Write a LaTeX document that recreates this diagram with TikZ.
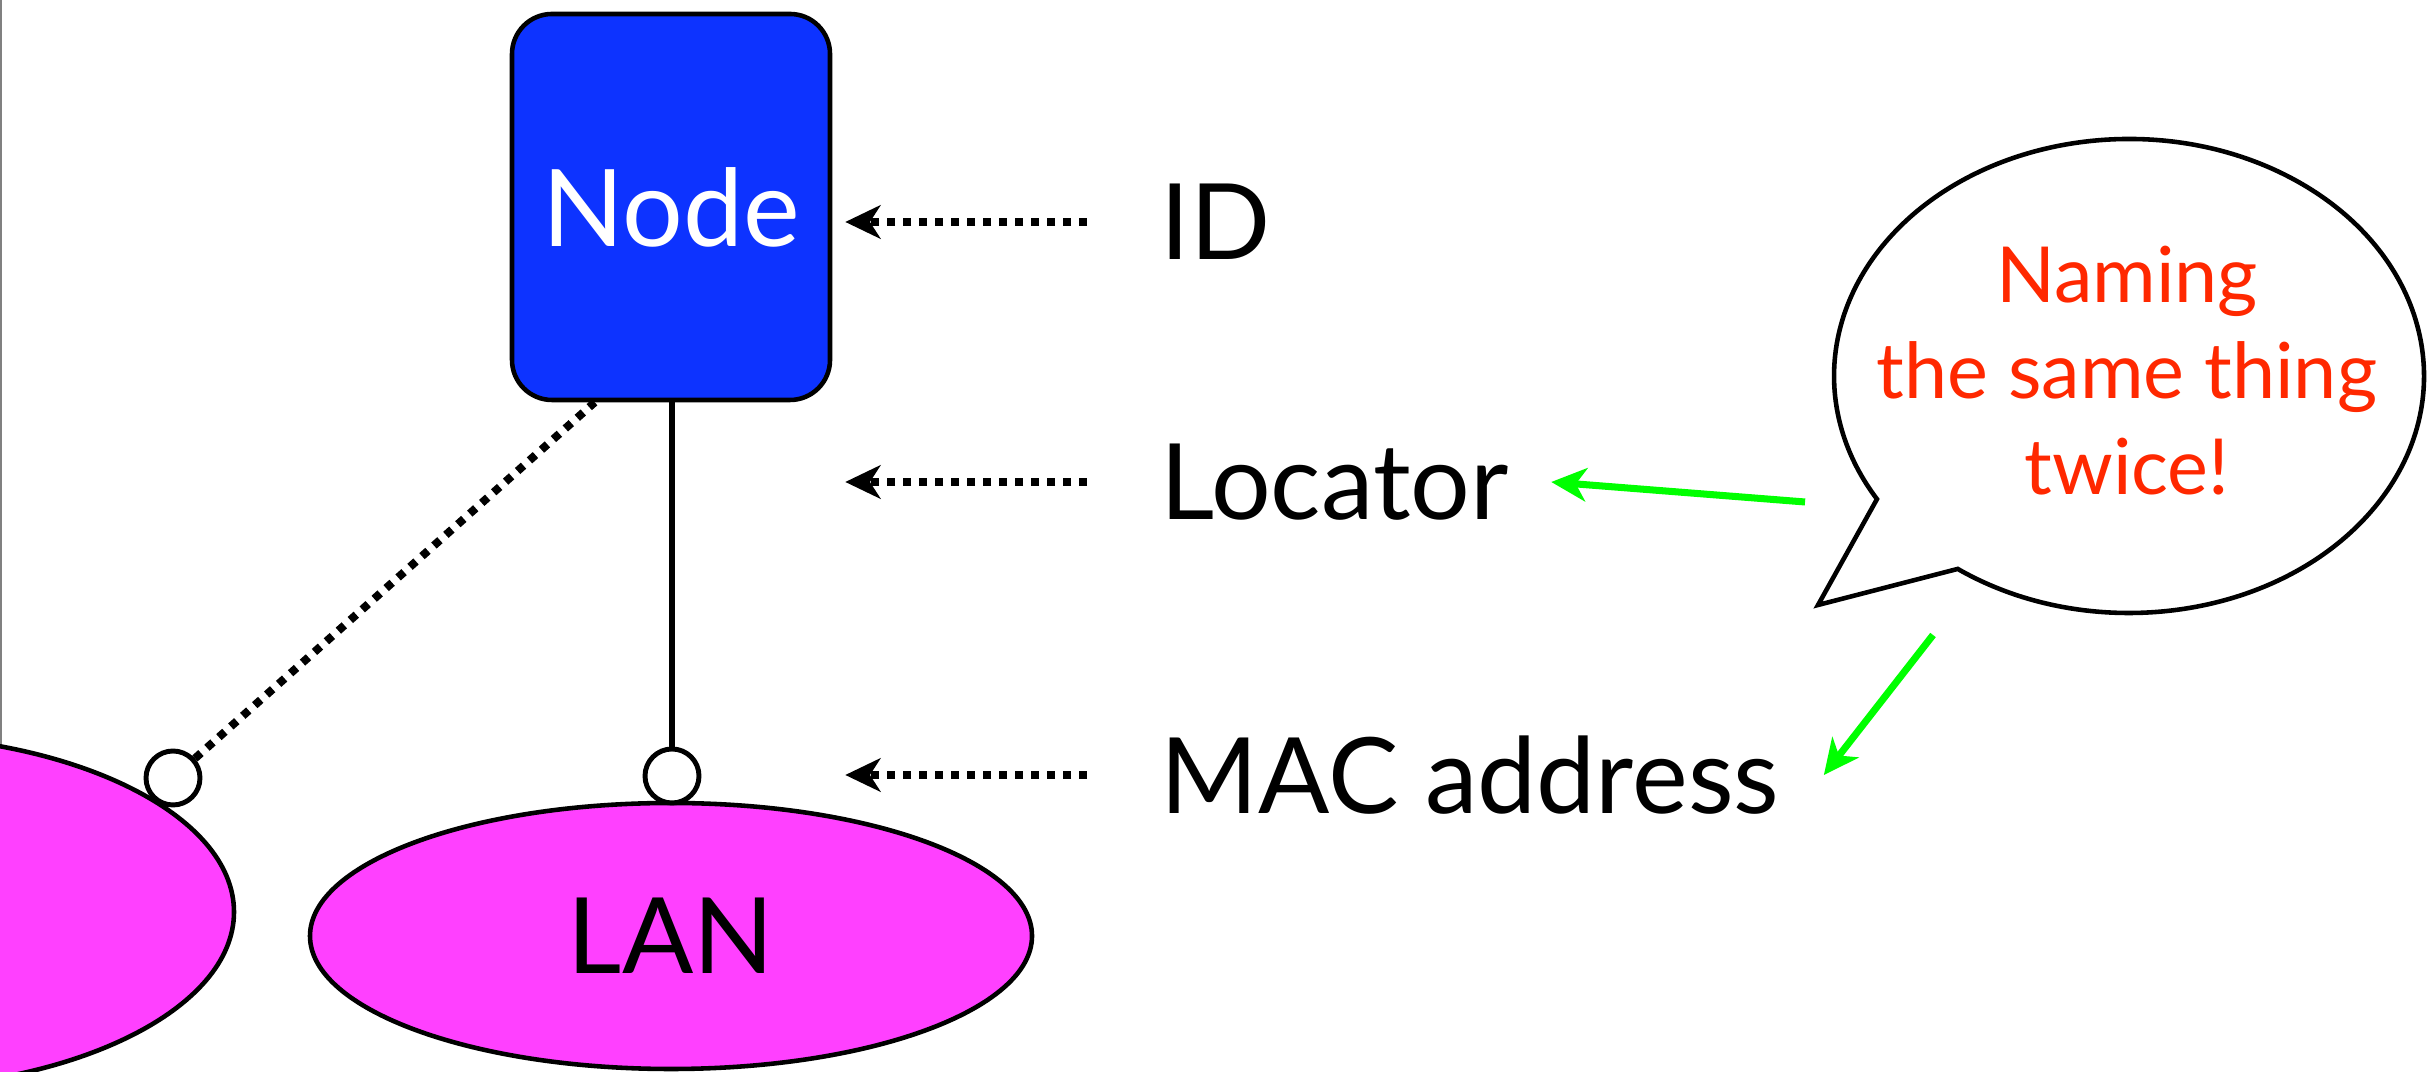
\documentclass[tikz,border=0pt]{standalone}
\usepackage{fontspec}
\setmainfont{Lato}
\usetikzlibrary{arrows.meta}
\usetikzlibrary{shapes.geometric}
\usetikzlibrary{positioning}
\definecolor{nodeblue}{RGB}{13,51,255}
\definecolor{lanpink}{RGB}{255,64,255}
\definecolor{alertred}{RGB}{255,40,0}
\definecolor{hintgreen}{RGB}{0,255,0}
\tikzset{
	hostbox/.style={draw=black, line width=1.3pt, fill=nodeblue, rounded corners=0.4cm, minimum width=3.18cm, minimum height=3.86cm, text=white, font=\fontsize{30.5}{36}\selectfont},
	lanshape/.style={ellipse, draw=black, line width=1.3pt, fill=lanpink, inner sep=0pt, font=\fontsize{30}{36}\selectfont},
	port/.style={circle, draw=black, line width=1.4pt, fill=white, minimum size=0.54cm, inner sep=0pt},
	layer/.style={anchor=west, inner sep=0pt, font=\fontsize{30}{36}\selectfont},
	ptr/.style={line width=2.3pt, dash pattern=on 0.08cm off 0.08cm, -{Stealth[length=10pt, width=9.5pt, inset=3pt]}},
	hint/.style={draw=hintgreen, line width=2pt, -{Stealth[length=10pt, width=9.5pt, inset=3pt, fill=hintgreen]}},
	bubbletext/.style={align=center, text=alertred, inner sep=0pt, font=\fontsize{22}{27.3}\selectfont}
}
\begin{document}
\begin{tikzpicture}
	\useasboundingbox (0,0) rectangle (24.29,10.72);
	\clip (0,0) rectangle (24.29,10.72);
	\draw[gray, line width=0.02cm] (0.01,0) -- (0.01,10.72);
	% networks
	\draw[line width=1.3pt, fill=lanpink] (-1.27,1.60) ellipse [x radius=3.61, y radius=1.77];
	\node[lanshape, minimum width=7.22cm, minimum height=2.66cm] (lan) at (6.71,1.36) {LAN};
	% host
	\node[hostbox] (host) at (6.71,8.65) {Node};
	\node[port] (lport) at (1.73,2.94) {};
	\node[port] (lanport) at (6.72,2.96) {};
	\draw[line width=1.8pt] (host.south -| lanport) -- (lanport);
	\draw[line width=2.3pt, dash pattern=on 0.08cm off 0.08cm] (lport) -- ([xshift=8.5mm]host.south west);
	% names
	\node[layer] (id) at (11.60,8.50) {ID};
	\node[layer] (loc) at (11.60,5.90) {Locator};
	\node[layer] (mac) at (11.60,2.97) {MAC address};
	\draw[ptr, shorten <=7.3mm, shorten >=1.3mm] (id.west) -- (id.west -| host.east);
	\draw[ptr, shorten <=7.3mm, shorten >=1.3mm] (loc.west) -- (loc.west -| host.east);
	\draw[ptr, shorten <=7.3mm, shorten >=1.3mm] (mac.west) -- (mac.west -| host.east);
	% speech bubble
	\draw[line width=1.3pt, fill=white] (21.29,6.96) ++(234.5:2.95 and 2.37) arc[start angle=234.5, end angle=571.3, x radius=2.95, y radius=2.37] -- (18.18,4.67) -- cycle;
	\node[bubbletext] (twice) at (21.27,7.01) {Naming\\the same thing\\twice!};
	\coordinate (g1s) at (18.05,5.70);
	\coordinate (g2s) at (19.33,4.37);
	\draw[hint] (g1s) -- ([xshift=4.2mm]loc.east);
	\draw[hint] (g2s) -- ([xshift=4.4mm]mac.east);
\end{tikzpicture}
\end{document}
